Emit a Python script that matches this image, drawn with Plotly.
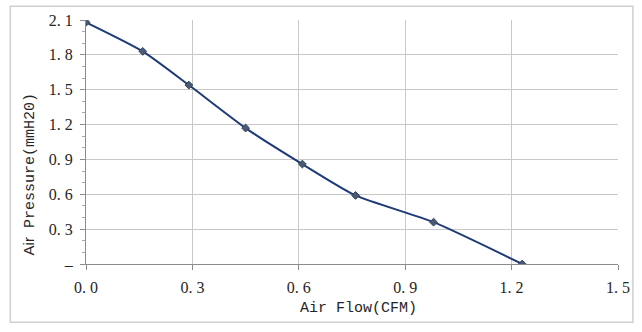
import plotly.graph_objects as go

# Fan performance curve: static pressure vs. air flow
air_flow = [0.0, 0.16, 0.29, 0.45, 0.61, 0.76, 0.98, 1.23]
air_pressure = [2.08, 1.83, 1.54, 1.17, 0.86, 0.59, 0.36, 0.0]

x_tick_vals = [0.0, 0.3, 0.6, 0.9, 1.2, 1.5]
x_tick_text = ["0. 0", "0. 3", "0. 6", "0. 9", "1. 2", "1. 5"]
y_tick_vals = [0.0, 0.3, 0.6, 0.9, 1.2, 1.5, 1.8, 2.1]
y_tick_text = ["\u2013", "0. 3", "0. 6", "0. 9", "1. 2", "1. 5", "1. 8", "2. 1"]

x_title = "Air Flow(CFM)"
y_title = "Air Pressure(mmH20)"

SERIF = "Liberation Serif, Times New Roman, serif"
SANS = "Liberation Sans, Arial, sans-serif"
MONO = "Liberation Mono, Courier New, monospace"
TEXT = "#262626"
GRID = "#c8c8c8"
AXIS = "#8c8c8c"

fig = go.Figure()
fig.add_trace(go.Scatter(
    x=air_flow,
    y=air_pressure,
    mode="lines+markers",
    line=dict(color="#1f3a78", width=2, shape="spline", smoothing=0.6),
    marker=dict(symbol="diamond", size=6, color="#4a5a72",
                line=dict(color="#35435a", width=1)),
    showlegend=False,
    hoverinfo="x+y",
))

fig.update_layout(
    width=642,
    height=332,
    margin=dict(l=86, r=22, t=17, b=68),
    paper_bgcolor="white",
    plot_bgcolor="white",
    font=dict(family=SERIF, size=16, color=TEXT),
    xaxis=dict(
        range=[0, 1.5],
        tickvals=x_tick_vals,
        ticktext=x_tick_text,
        showgrid=True,
        gridcolor=GRID,
        gridwidth=1,
        zeroline=False,
        showline=True,
        linecolor=AXIS,
        linewidth=1,
        ticks="outside",
        ticklen=5,
        tickcolor=AXIS,
        ticklabelstandoff=4,
        tickfont=dict(family=SERIF, size=16, color=TEXT),
        fixedrange=True,
    ),
    yaxis=dict(
        range=[0, 2.1],
        tickvals=y_tick_vals,
        ticktext=y_tick_text,
        showgrid=True,
        gridcolor=GRID,
        gridwidth=1,
        zeroline=False,
        showline=True,
        linecolor=AXIS,
        linewidth=1,
        ticks="outside",
        ticklen=5,
        tickcolor=AXIS,
        ticklabelstandoff=4,
        minor=dict(dtick=0.1, ticks="outside", ticklen=3, tickcolor="#a8a8a8",
                   showgrid=False),
        tickfont=dict(family=SERIF, size=16, color=TEXT),
        fixedrange=True,
    ),
)

# Axis titles
fig.add_annotation(
    text=x_title, xref="paper", yref="paper", x=0.513, y=-0.182,
    xanchor="center", yanchor="middle", showarrow=False,
    font=dict(family=MONO, size=15, color=TEXT),
)
fig.add_annotation(
    text=f'<span style="font-family:{SANS}">Air</span>{y_title[3:]}',
    xref="paper", yref="paper", x=-0.1067, y=0.368,
    xanchor="center", yanchor="middle", textangle=-90, showarrow=False,
    font=dict(family=MONO, size=15, color=TEXT),
)

# Chart-area frame
fig.add_shape(
    type="rect", xref="paper", yref="paper",
    x0=-0.1423, x1=1.028, y0=-0.239, y1=1.0567,
    line=dict(color="#d0d0d0", width=1.5),
    fillcolor="rgba(0,0,0,0)",
    layer="below",
)

fig.write_html("out.html")
